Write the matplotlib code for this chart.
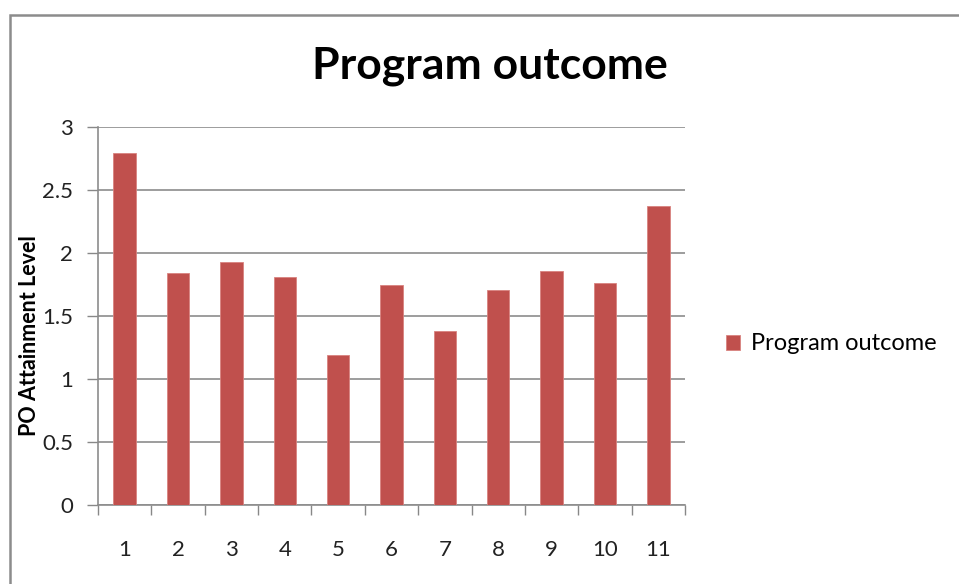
import matplotlib.pyplot as plt
from matplotlib.patches import Rectangle

outcomes = [1, 2, 3, 4, 5, 6, 7, 8, 9, 10, 11]
attainment = [2.79, 1.84, 1.93, 1.81, 1.19, 1.75, 1.38, 1.71, 1.86, 1.76, 2.37]
series_name = "Program outcome"
yticks = [0, 0.5, 1, 1.5, 2, 2.5, 3]

W, H = 959, 584
plt.rcParams['font.family'] = ['Lato', 'DejaVu Sans']
fig = plt.figure(figsize=(W / 100, H / 100), dpi=100)
ax = fig.add_axes([98 / W, (H - 505) / H, (685 - 98) / W, (505 - 127) / H])

# outer chart border (runs off right and bottom)
fig.patches.append(Rectangle((10 / W, -0.1), 1.2, (H - 15) / H + 0.1,
                             transform=fig.transFigure, fill=False,
                             edgecolor='#8c8c8c', linewidth=1.8))

pos = list(range(len(outcomes)))
ax.bar(pos, attainment, width=0.42, color='#C0504D', edgecolor='#d9827f',
       linewidth=0.6, label=series_name, zorder=3)

ax.set_xlim(-0.5, len(outcomes) - 0.5)
ax.set_ylim(0, 3)
ax.set_yticks(yticks)
ax.set_yticklabels([f"{t:g}" for t in yticks])
ax.set_xticks(pos)
ax.set_xticklabels([str(o) for o in outcomes])
ax.set_xticks([p - 0.5 for p in pos] + [len(pos) - 0.5], minor=True)
ax.tick_params(axis='x', which='major', length=0, pad=25, labelsize=16, labelcolor='#222222')
ax.tick_params(axis='x', which='minor', length=7, color='#888888', width=1, direction='out')
ax.tick_params(axis='y', length=8, color='#888888', width=1, pad=10, labelsize=16, labelcolor='#222222')

ax.grid(axis='y', color='#8c8c8c', linewidth=1.2, zorder=0)
for s in ['top', 'right']:
    ax.spines[s].set_visible(False)
ax.spines['left'].set_color('#8c8c8c')
ax.spines['bottom'].set_color('#8c8c8c')
ax.spines['left'].set_linewidth(1.2)
ax.spines['bottom'].set_linewidth(1.2)

fig.text(490 / W, 1 - 66 / H, "Program outcome", ha='center', va='center',
         fontsize=32, fontweight='bold')
fig.text(30 / W, 1 - 336 / H, "PO Attainment Level", ha='center', va='center',
         rotation=90, fontsize=15.5, fontweight='bold')

ax.legend(loc='center left', bbox_to_anchor=(705 / W, 1 - 344 / H),
          bbox_transform=fig.transFigure, frameon=False, fontsize=17,
          handlelength=0.6, handleheight=0.6, handletextpad=0.45)

fig.savefig("out.png", dpi=100)
